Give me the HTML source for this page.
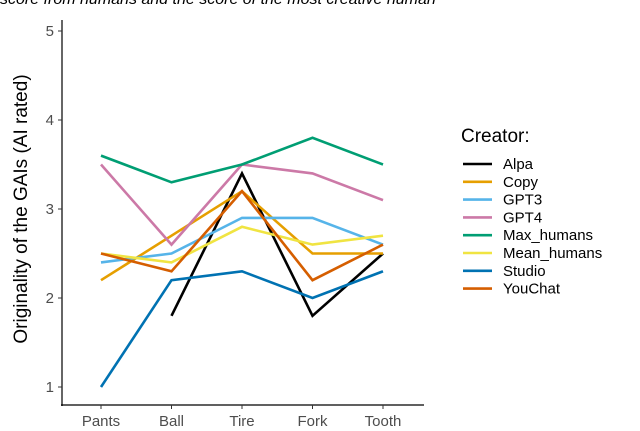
<!DOCTYPE html>
<html><head><meta charset="utf-8"><style>
body{margin:0;background:#fff;}
svg{display:block;font-family:"Liberation Sans",Arial,sans-serif;}
</style></head><body>
<svg id="chart" width="640" height="431">
<text x="0" y="4" font-size="16" font-style="italic" fill="#000">score from humans and the score of the most creative human</text>
<g id="axes"></g><g id="lines"></g><g id="legend"></g>
</svg>
<script>
const categories=["Pants","Ball","Tire","Fork","Tooth"];
const seriesNames=["Alpa","Copy","GPT3","GPT4","Max_humans","Mean_humans","Studio","YouChat"];
const alpa=[null,1.8,3.4,1.8,2.5];
const copy=[2.2,2.7,3.2,2.5,2.5];
const gpt3=[2.4,2.5,2.9,2.9,2.6];
const gpt4=[3.5,2.6,3.5,3.4,3.1];
const maxHumans=[3.6,3.3,3.5,3.8,3.5];
const meanHumans=[2.5,2.4,2.8,2.6,2.7];
const studio=[1.0,2.2,2.3,2.0,2.3];
const youchat=[2.5,2.3,3.2,2.2,2.6];
const yTicks=[1,2,3,4,5];
const seriesValues=[alpa,copy,gpt3,gpt4,maxHumans,meanHumans,studio,youchat];
const colors=["#000000","#E69F00","#56B4E9","#CC79A7","#009E73","#F0E442","#0072B2","#D55E00"];
const NS="http://www.w3.org/2000/svg";
const x=i=>101+i*70.5;
const y=v=>387-(v-1)*89;
function mk(tag,attrs,parent){const e=document.createElementNS(NS,tag);for(const k in attrs)e.setAttribute(k,attrs[k]);parent.appendChild(e);return e;}
const ax=document.getElementById('axes');
let l=mk('line',{x1:62,y1:20,x2:62,y2:406,stroke:'#000','stroke-width':1.2},ax);


l=mk('line',{x1:61,y1:405,x2:424,y2:405,stroke:'#000','stroke-width':1.2},ax);


yTicks.forEach(t=>{
 mk('line',{x1:58,x2:62,y1:y(t),y2:y(t),stroke:'#333'},ax);
 const tx=mk('text',{x:54,y:y(t)+5,'text-anchor':'end','font-size':15,fill:'#4d4d4d'},ax);
 tx.textContent=t;
 
 
});
categories.forEach((c,i)=>{
 mk('line',{x1:x(i),x2:x(i),y1:405,y2:409,stroke:'#333'},ax);
 const tx=mk('text',{x:x(i),y:426,'text-anchor':'middle','font-size':15,fill:'#4d4d4d'},ax);
 tx.textContent=c;
 
 
});
const yt=mk('text',{x:0,y:0,transform:'translate(27,209) rotate(-90)','text-anchor':'middle','font-size':19,fill:'#000'},ax);
yt.textContent='Originality of the GAIs (AI rated)';


const lg=document.getElementById('lines');
seriesValues.forEach((vals,s)=>{
 const pts=[];vals.forEach((v,i)=>{if(v!==null)pts.push(x(i)+','+y(v));});
 const p=mk('polyline',{points:pts.join(' '),fill:'none',stroke:colors[s],'stroke-width':2.6,'stroke-linejoin':'miter'},lg);
 
 
});
const leg=document.getElementById('legend');
const lt=mk('text',{x:461,y:142,'font-size':19,fill:'#000'},leg);
lt.textContent='Creator:';


seriesNames.forEach((n,s)=>{
 const yy=164+s*17.8;
 mk('line',{x1:463,x2:492,y1:yy,y2:yy,stroke:colors[s],'stroke-width':2.6},leg);
 const t=mk('text',{x:503,y:yy+5,'font-size':15,fill:'#000'},leg);
 t.textContent=n;
 
 
});
</script>
</body></html>
